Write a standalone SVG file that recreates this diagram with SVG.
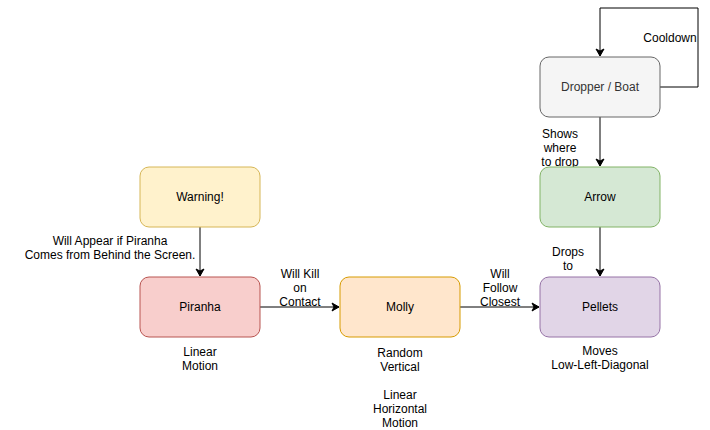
<svg xmlns="http://www.w3.org/2000/svg" width="710" height="430" viewBox="0 0 710 430">
<defs>
<marker id="arr" markerWidth="10" markerHeight="10" refX="8" refY="5" orient="auto" markerUnits="userSpaceOnUse">
<path d="M1,1 L8,5 L1,9 L3,5 Z" fill="#000" stroke="#000" stroke-width="1"/>
</marker>
</defs>
<style>
text{font-family:"Liberation Sans",Arial,Helvetica,sans-serif;font-size:12px;fill:#000;text-anchor:middle}
.n rect{stroke-width:1}
.e{fill:none;stroke:#000;stroke-width:1;marker-end:url(#arr)}
</style>
<rect width="710" height="430" fill="#fff"/>
<g id="connectors">
<path class="e" d="M660,87 H698 V8 H600 V56"/>
<path class="e" d="M200,227 V276"/>
<path class="e" d="M260,307 H339"/>
<path class="e" d="M460,307 H539"/>
<path class="e" d="M600,117 V166"/>
<path class="e" d="M600,227 V276"/>
<text x="670" y="42">Cooldown</text>
<text x="110" y="245">Will Appear if Piranha</text>
<text x="110" y="259">Comes from Behind the Screen.</text>
<text x="300" y="278">Will Kill</text>
<text x="300" y="292">on</text>
<text x="300" y="306">Contact</text>
<text x="500" y="278">Will</text>
<text x="500" y="292">Follow</text>
<text x="500" y="306">Closest</text>
<text x="560" y="138">Shows</text>
<text x="560" y="152">where</text>
<text x="560" y="166">to drop</text>
<text x="568" y="256">Drops</text>
<text x="568" y="270">to</text>
</g>
<g id="dropper" class="n"><rect x="540" y="57" width="120" height="60" rx="9" fill="#f5f5f5" stroke="#666666"/><text x="600" y="91" style="fill:#333333">Dropper / Boat</text></g>
<g id="arrow" class="n"><rect x="540" y="167" width="120" height="60" rx="9" fill="#d5e8d4" stroke="#82b366"/><text x="600" y="201">Arrow</text></g>
<g id="warning" class="n"><rect x="140" y="167" width="120" height="60" rx="9" fill="#fff2cc" stroke="#d6b656"/><text x="200" y="201">Warning!</text></g>
<g id="piranha" class="n"><rect x="140" y="277" width="120" height="60" rx="9" fill="#f8cecc" stroke="#b85450"/><text x="200" y="311">Piranha</text></g>
<g id="molly" class="n"><rect x="340" y="277" width="120" height="60" rx="9" fill="#ffe6cc" stroke="#d79b00"/><text x="400" y="311">Molly</text></g>
<g id="pellets" class="n"><rect x="540" y="277" width="120" height="60" rx="9" fill="#e1d5e7" stroke="#9673a6"/><text x="600" y="311">Pellets</text></g>
<g id="piranha-note"><text x="200" y="356">Linear</text><text x="200" y="370">Motion</text></g>
<g id="molly-note"><text x="400" y="357">Random</text><text x="400" y="371">Vertical</text><text x="400" y="399">Linear</text><text x="400" y="413">Horizontal</text><text x="400" y="427">Motion</text></g>
<g id="pellets-note"><text x="600" y="355">Moves</text><text x="600" y="369">Low-Left-Diagonal</text></g>
</svg>
